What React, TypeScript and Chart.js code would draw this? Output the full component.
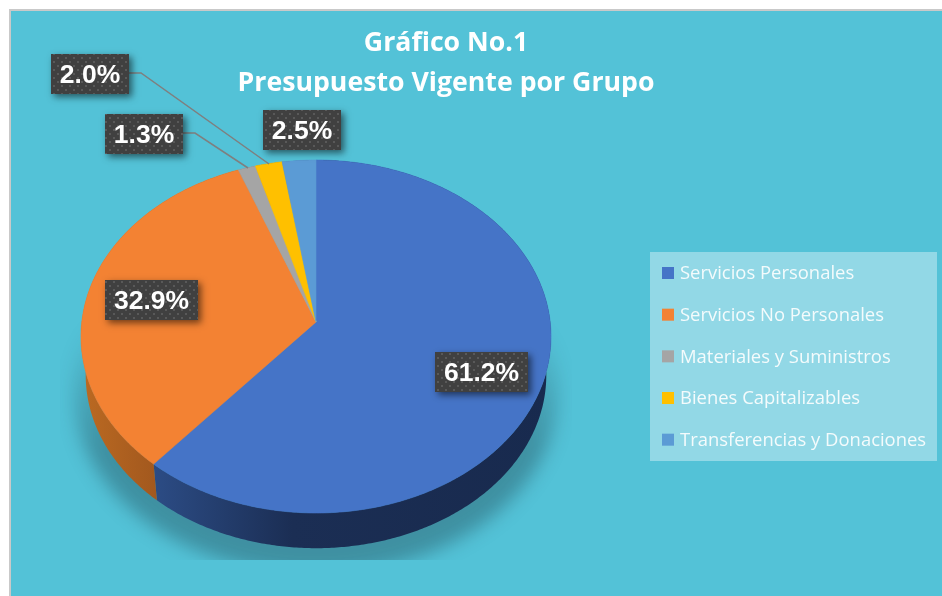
import React, { useEffect, useRef } from "react";
import { Chart, registerables } from "chart.js";

Chart.register(...registerables);

const categories = [
  "Servicios Personales",
  "Servicios No Personales",
  "Materiales y Suministros",
  "Bienes Capitalizables",
  "Transferencias y Donaciones",
];
const values = [61.2, 32.9, 1.3, 2.0, 2.5];
const sliceColors = ["#4574C7", "#F38233", "#A5A5A5", "#FFC000", "#5B9BD5"];
const titleLines = ["Gráfico No.1", "Presupuesto Vigente por Grupo"];

// Layout of the labels (box left, box top, box width), in slice order
const labelBoxes = [
  [435, 352, 93],
  [105, 280, 93],
  [105, 114, 78],
  [51, 54, 78],
  [263, 110, 78],
];
const leaderLines: Record<number, number[][]> = {
  2: [[183, 133], [195, 133], [248, 168]],
  3: [[129, 73], [141, 73], [269, 164]],
};

// Perspective of the tilted disc
const CX = 316, CY = 322, RX = 234.2, RY = 175.3, TILT = 0.0822;
const BOTTOM_SCALE = 0.98, BOTTOM_DROP = 39;

function project(a: number, scale = 1, drop = 0) {
  const u = Math.cos(a), v = Math.sin(a), w = 1 - TILT * v;
  return [CX + (RX * scale * u) / w, CY + drop + (RY * scale * v) / w];
}

function trace(ctx: any, a0: number, a1: number, scale = 1, drop = 0, first = false) {
  const steps = Math.max(2, Math.ceil(Math.abs(a1 - a0) / 0.01));
  for (let i = 0; i <= steps; i++) {
    const [x, y] = project(a0 + ((a1 - a0) * i) / steps, scale, drop);
    if (i === 0 && first) ctx.moveTo(x, y);
    else ctx.lineTo(x, y);
  }
}

const perspectivePie = {
  id: "perspectivePie",
  beforeDraw(chart: any) {
    const ctx = chart.ctx;
    ctx.save();
    ctx.fillStyle = "#ffffff";
    ctx.fillRect(0, 0, 942, 596);
    ctx.fillStyle = "#C9C9C9";
    ctx.fillRect(9, 9, 933, 587);
    ctx.fillStyle = "#53C2D7";
    ctx.fillRect(11, 11, 931, 585);
    ctx.restore();
  },
  beforeDatasetDraw(chart: any, args: any) {
    const ctx = chart.ctx;
    const arcs = args.meta.data;

    // soft shadow under the disc
    ctx.save();
    ctx.beginPath();
    ctx.rect(60, 320, 512, 240);
    ctx.clip();
    ctx.filter = "blur(9px)";
    const fade = ctx.createLinearGradient(0, 320, 0, 450);
    fade.addColorStop(0, "rgba(20,40,50,0)");
    fade.addColorStop(1, "rgba(20,40,50,0.32)");
    ctx.fillStyle = fade;
    ctx.beginPath();
    trace(ctx, 0, Math.PI * 2, 1.03, BOTTOM_DROP + 16, true);
    ctx.closePath();
    ctx.fill();
    ctx.restore();

    // side walls
    const blue = ctx.createLinearGradient(153, 0, 551, 0);
    blue.addColorStop(0, "#2C4C85");
    blue.addColorStop(0.35, "#1B2E54");
    blue.addColorStop(1, "#182A4E");
    const orange = ctx.createLinearGradient(81, 0, 157, 0);
    orange.addColorStop(0, "#BB6A22");
    orange.addColorStop(1, "#A2581E");
    const walls = [blue, orange, "#6E6E6E", "#AA8000", "#3D6B95"];
    arcs.forEach((arc: any, i: number) => {
      ctx.beginPath();
      trace(ctx, arc.startAngle, arc.endAngle, 1, 0, true);
      trace(ctx, arc.endAngle, arc.startAngle, BOTTOM_SCALE, BOTTOM_DROP);
      ctx.closePath();
      ctx.fillStyle = walls[i];
      ctx.fill();
    });

    // top faces
    arcs.forEach((arc: any, i: number) => {
      const color = arc.options.backgroundColor;
      ctx.beginPath();
      ctx.moveTo(CX, CY);
      trace(ctx, arc.startAngle, arc.endAngle);
      ctx.closePath();
      ctx.fillStyle = color;
      ctx.strokeStyle = color;
      ctx.lineWidth = 0.6;
      ctx.fill();
      ctx.stroke();
    });
    return false;
  },
  afterDatasetsDraw(chart: any) {
    const ctx = chart.ctx;

    // legend panel
    ctx.save();
    ctx.fillStyle = "rgba(255,255,255,0.37)";
    ctx.fillRect(650, 252, 287, 209);
    categories.forEach((name, i) => {
      const y = 273 + i * 41.67;
      ctx.fillStyle = sliceColors[i];
      ctx.fillRect(662, y - 6, 12, 12);
      ctx.fillStyle = "#F4FBFC";
      ctx.font = '18.45px "Open Sans"';
      ctx.textAlign = "left";
      ctx.textBaseline = "middle";
      ctx.fillText(name, 680, y + 1);
    });
    ctx.restore();

    // leader lines
    ctx.save();
    ctx.strokeStyle = "#7F7F7F";
    ctx.lineWidth = 1.5;
    Object.values(leaderLines).forEach((pts) => {
      ctx.beginPath();
      pts.forEach(([x, y], k) => (k ? ctx.lineTo(x, y) : ctx.moveTo(x, y)));
      ctx.stroke();
    });
    ctx.restore();

    // dotted label boxes
    const tile = document.createElement("canvas");
    tile.width = tile.height = 8;
    const t = tile.getContext("2d") as CanvasRenderingContext2D;
    t.fillStyle = "#404040";
    t.fillRect(0, 0, 8, 8);
    t.fillStyle = "#595959";
    t.fillRect(1, 1, 2, 2);
    t.fillRect(5, 5, 2, 2);
    const pattern = ctx.createPattern(tile, "repeat");

    values.forEach((v, i) => {
      const [x, y, w] = labelBoxes[i];
      const h = 40;
      ctx.save();
      ctx.shadowColor = "rgba(0,0,0,0.55)";
      ctx.shadowBlur = 7;
      ctx.shadowOffsetX = 3;
      ctx.shadowOffsetY = 3;
      ctx.fillStyle = "#404040";
      ctx.fillRect(x, y, w, h);
      ctx.restore();
      ctx.save();
      ctx.fillStyle = pattern;
      ctx.fillRect(x, y, w, h);
      ctx.fillStyle = "#ffffff";
      ctx.font = 'bold 26.5px "Liberation Sans"';
      ctx.textAlign = "center";
      ctx.textBaseline = "middle";
      ctx.fillText(v.toFixed(1) + "%", x + w / 2, y + h / 2 + 2);
      ctx.restore();
    });
  },
};

export default function App() {
  const ref = useRef<HTMLCanvasElement>(null);
  useEffect(() => {
    const chart = new Chart(ref.current as HTMLCanvasElement, {
      type: "pie",
      data: {
        labels: categories,
        datasets: [{ data: values, backgroundColor: sliceColors, borderWidth: 0 }],
      },
      options: {
        responsive: false,
        animation: false,
        devicePixelRatio: 1,
        events: [],
        layout: { padding: { left: 10, right: 60, top: 0, bottom: 0 } },
        plugins: {
          legend: { display: false },
          tooltip: { enabled: false },
          title: {
            display: true,
            text: titleLines,
            color: "#ffffff",
            fullSize: false,
            font: { family: '"Open Sans"', weight: "bold", size: 26.7, lineHeight: 1.5 },
            padding: { top: 23, bottom: 10 },
          },
        },
      } as any,
      plugins: [perspectivePie],
    });
    return () => chart.destroy();
  }, []);
  return (
    <div style={{ position: "fixed", left: 0, top: 0, width: 942, height: 596 }}>
      <canvas ref={ref} width={942} height={596} style={{ display: "block" }} />
    </div>
  );
}
